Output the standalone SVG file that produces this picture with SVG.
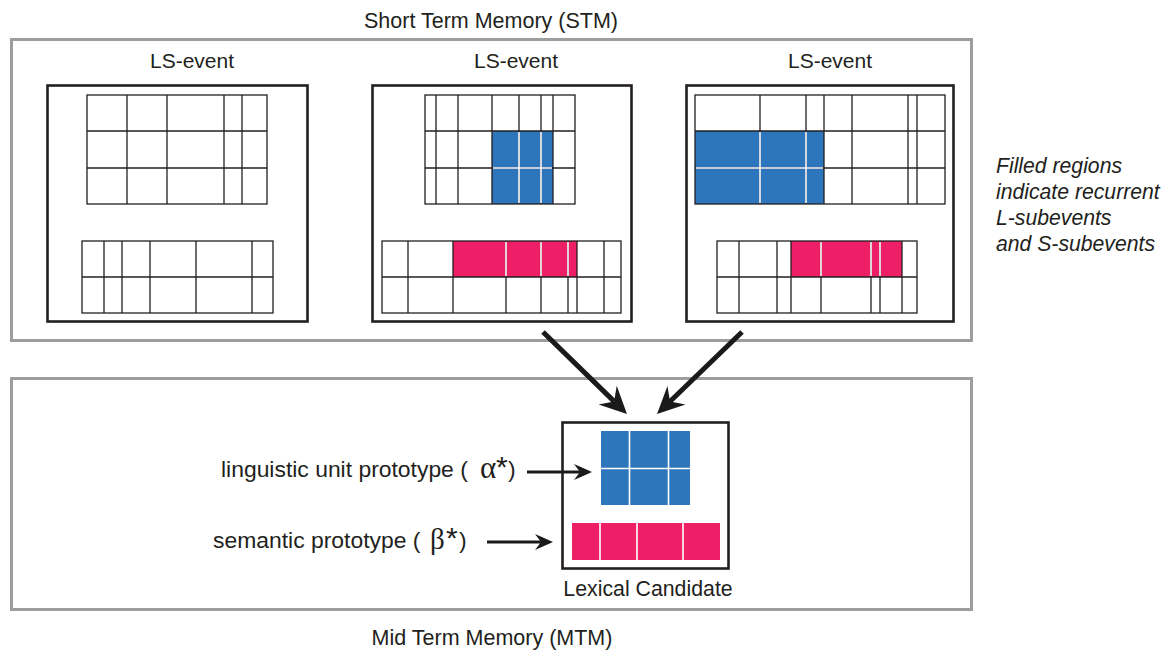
<svg xmlns="http://www.w3.org/2000/svg" width="1167" height="650" viewBox="0 0 1167 650">
<defs>
<style>
.t{font-family:"Liberation Sans",Arial,sans-serif;fill:#231f20}
.h{font-size:21.5px;text-anchor:middle}
.ls{font-size:21px;text-anchor:middle}
.lab{font-size:22.9px}
.it{font-size:21.2px;font-style:italic}
.gr{font-family:"Liberation Serif","Times New Roman",serif;fill:#231f20}
.mem{fill:none;stroke:#9d9d9d;stroke-width:3}
.ev{fill:#fff;stroke:#231f20;stroke-width:2.6}
.g{fill:none;stroke:#231f20;stroke-width:1.3}
.w{stroke:#fff;stroke-width:1.6}
.blue{fill:#2e76bb}
.pink{fill:#ec1f67}
.big{stroke:#1a1a1a;stroke-width:5;fill:none}
.sm{stroke:#1a1a1a;stroke-width:3;fill:none}
</style>
<marker id="ahBig" viewBox="-28 -15 30 30" refX="-18" refY="0" markerWidth="30" markerHeight="30" markerUnits="userSpaceOnUse" orient="auto">
<path d="M0,0 L-27,-13 L-18,0 L-27,13 Z" fill="#1a1a1a"/>
</marker>
<marker id="ahSm" viewBox="-19 -10 20 20" refX="-12" refY="0" markerWidth="20" markerHeight="20" markerUnits="userSpaceOnUse" orient="auto">
<path d="M0,0 L-18,-8 L-12,0 L-18,8 Z" fill="#1a1a1a"/>
</marker>
</defs>
<rect width="1167" height="650" fill="#fff"/>

<g id="stm">
<rect class="mem" x="11.5" y="39.5" width="960" height="301"/>
<text class="t h" x="491" y="28">Short Term Memory (STM)</text>
</g>

<g id="mtm">
<rect class="mem" x="11.5" y="378.5" width="960" height="231"/>
<text class="t h" x="492" y="645">Mid Term Memory (MTM)</text>
</g>

<g id="legend">
<text class="t it" x="996" y="173">Filled regions</text>
<text class="t it" x="996" y="199">indicate recurrent</text>
<text class="t it" x="996" y="225">L-subevents</text>
<text class="t it" x="996" y="251">and S-subevents</text>
</g>

<g id="event1">
<text class="t ls" x="192" y="68">LS-event</text>
<rect class="ev" x="47.5" y="85.5" width="260" height="236"/>
<g class="g">
<rect x="87" y="95" width="180" height="109"/>
<path d="M127,95V204M167,95V204M224,95V204M242,95V204M87,131H267M87,168H267"/>
<rect x="82" y="241" width="191" height="72"/>
<path d="M104,241V313M122,241V313M150,241V313M196,241V313M252,241V313M82,277H273"/>
</g>
</g>

<g id="event2">
<text class="t ls" x="516" y="68">LS-event</text>
<rect class="ev" x="372.5" y="85.5" width="259" height="236"/>
<rect class="blue" x="492" y="131" width="61" height="73"/>
<rect class="pink" x="453" y="241" width="124" height="36"/>
<g class="g">
<rect x="425" y="95" width="150" height="109"/>
<path d="M436,95V204M458,95V204M492,95V204M519,95V204M541,95V204M553,95V204M425,131H575M425,168H575"/>
<rect x="382" y="241" width="239" height="72"/>
<path d="M408,241V313M453,241V313M506,241V313M541,241V313M568,241V313M577,241V313M604,241V313M382,277H621"/>
</g>
<path class="w" d="M519,132V203M541,132V203M493,168H552M506,242V276M541,242V276M568,242V276"/>
</g>

<g id="event3">
<text class="t ls" x="830" y="68">LS-event</text>
<rect class="ev" x="686.5" y="85.5" width="267" height="236"/>
<rect class="blue" x="695" y="131" width="129" height="73"/>
<rect class="pink" x="791" y="241" width="111" height="36"/>
<g class="g">
<rect x="695" y="95" width="250" height="109"/>
<path d="M760,95V204M806,95V204M824,95V204M852,95V204M908,95V204M917,95V204M695,131H945M695,168H945"/>
<rect x="717" y="241" width="200" height="72"/>
<path d="M739,241V313M777,241V313M791,241V313M821,241V313M871,241V313M880,241V313M902,241V313M717,277H917"/>
</g>
<path class="w" d="M760,132V203M806,132V203M696,168H823M821,242V276M871,242V276M880,242V276"/>
</g>

<g id="lexical">
<rect class="ev" x="562.5" y="422.5" width="166" height="146"/>
<rect class="blue" x="601" y="431" width="89" height="74"/>
<path class="w" d="M629.5,431V505M668.5,431V505M601,468.5H690"/>
<rect class="pink" x="572" y="523" width="148" height="37"/>
<path class="w" d="M600,523V560M637,523V560M683,523V560"/>
<text class="t" x="648" y="596" font-size="21.3" text-anchor="middle">Lexical Candidate</text>
</g>

<g id="alphaLabel">
<text class="t lab" x="221" y="477">linguistic unit prototype (</text>
<text class="gr" x="480" y="478" font-size="31">α</text>
<text class="t" x="496" y="477" font-size="30">*</text>
<text class="t lab" x="508" y="477">)</text>
</g>

<g id="betaLabel">
<text class="t lab" x="213" y="548">semantic prototype (</text>
<text class="gr" x="430" y="549" font-size="29">β</text>
<text class="t" x="446" y="548" font-size="30">*</text>
<text class="t lab" x="459" y="548">)</text>
</g>

<g id="connectors">
<line class="big" x1="543" y1="332" x2="614.1" y2="401.4" marker-end="url(#ahBig)"/>
<line class="big" x1="742" y1="332" x2="670" y2="401.5" marker-end="url(#ahBig)"/>
<line class="sm" x1="527" y1="472" x2="580" y2="472" marker-end="url(#ahSm)"/>
<line class="sm" x1="487" y1="542" x2="541" y2="542" marker-end="url(#ahSm)"/>
</g>
</svg>
